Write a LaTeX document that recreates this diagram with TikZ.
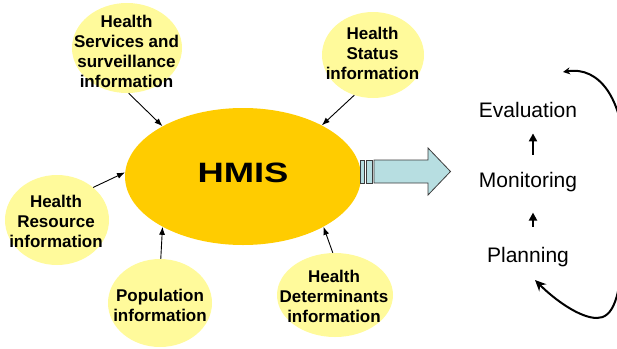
\documentclass[tikz,border=0pt]{standalone}
\usepackage{fontspec}
\setmainfont{Liberation Sans}
\usetikzlibrary{arrows.meta,shapes.geometric}
\definecolor{hmisyel}{RGB}{255,204,0}
\definecolor{paleyel}{RGB}{255,250,155}
\definecolor{arrowblue}{RGB}{183,222,225}
\definecolor{arrowedge}{RGB}{60,60,60}
\begin{document}
\begin{tikzpicture}[x=1pt,y=-1pt,
  info/.style={ellipse, fill=paleyel, inner sep=0pt},
  lbl/.style={align=center, font=\bfseries\fontsize{17}{20}\selectfont, inner sep=0pt},
  feed/.style={-{Latex[length=8pt,width=6pt]}, line width=0.9pt},
  stepword/.style={font=\fontsize{21}{24}\selectfont, inner sep=0pt, anchor=base},
  uparrow/.style={-{Triangle[length=8pt,width=8pt]}, line width=2.2pt},
  bigarrow/.style={draw=arrowedge, fill=arrowblue, line width=0.8pt}
]
\useasboundingbox (0,0) rectangle (617,348);

% small information ellipses
\node[info, minimum width=110pt, minimum height=90pt] (s1) at (127,48) {};
\node[info, minimum width=102pt, minimum height=86pt] (s2) at (373,55) {};
\node[info, minimum width=104pt, minimum height=90pt] (s3) at (57,220) {};
\node[info, minimum width=104pt, minimum height=88pt] (s4) at (160,303) {};
\node[info, minimum width=116pt, minimum height=84pt] (s5) at (335,295) {};

\node[lbl] (t1) at (126.5,51.5) {Health\\Services and\\surveillance\\information};
\node[lbl] (t2) at (372.5,53) {Health\\Status\\information};
\node[lbl] (t3) at (56,221) {Health\\Resource\\information};
\node[lbl] (t4) at (160,305.5) {Population\\information};
\node[lbl] (t5) at (334,296) {Health\\Determinants\\information};

% central ellipse
\node[ellipse, fill=hmisyel, minimum width=236pt, minimum height=137pt, inner sep=0pt] (hmis) at (243,176.5) {};
\node[font=\bfseries\fontsize{28}{28}\selectfont, inner sep=0pt] (hmistxt) at (243,173) {\scalebox{1.3}[1]{HMIS}};

% feeding arrows
\draw[feed] (s1.-88) -- (hmis.148);
\draw[feed] (s2.245) -- (hmis.33);
\draw[feed] (s3.42) -- (hmis.178);
\draw[feed] (s4.89) -- (hmis.212);
\draw[feed] (s5.93) -- (hmis.-32);

% big striped arrow
\draw[bigarrow] (360,160) rectangle (364,183);
\draw[bigarrow] (366,160) rectangle (372,183);
\draw[bigarrow] (374,160) -- (428,160) -- (428,148) -- (450.5,171.5) -- (428,195) -- (428,183) -- (374,183) -- cycle;

% cycle
\node[stepword] (eva) at (528,117) {Evaluation};
\node[stepword] (mon) at (528,187) {Monitoring};
\node[stepword] (pla) at (528,262) {Planning};
\draw[uparrow, shorten <=17pt, shorten >=16pt] ([xshift=5pt]mon.north) -- ([xshift=5pt]eva.south);
\draw[uparrow, shorten <=20pt, shorten >=21pt] ([xshift=5pt]pla.north) -- ([xshift=5pt]mon.south);

\coordinate (ctop) at (563,72);
\coordinate (cbot) at (535,280);
\draw[line width=2pt, {Stealth[length=7pt,width=7pt]}-{Stealth[length=11pt,width=10pt]}]
  (ctop) .. controls (600,66) and (622,100) .. (624,150) -- (622,240)
  .. controls (622,300) and (612,318) .. (597,318)
  .. controls (580,318) and (555,300) .. (cbot);
\end{tikzpicture}
\end{document}
